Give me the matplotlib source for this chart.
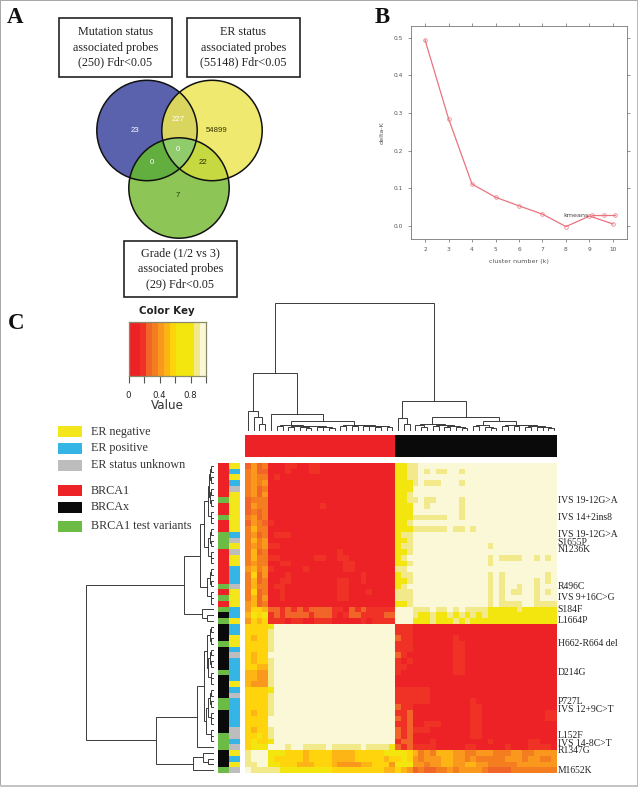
import numpy as np
import matplotlib
matplotlib.use("Agg")
import matplotlib.pyplot as plt
from matplotlib.colors import ListedColormap
from matplotlib.patches import Circle, Rectangle, Polygon

W, H = 638, 787
SERIF = "Liberation Serif"
SANS = "Liberation Sans"

# ---------- panel A data ----------
box_texts = ["Mutation status\nassociated probes\n(250) Fdr<0.05",
             "ER status\nassociated probes\n(55148) Fdr<0.05",
             "Grade (1/2 vs 3)\nassociated probes\n(29) Fdr<0.05"]
venn_counts = ["23", "227", "54899", "0", "0", "22", "7"]

# ---------- panel B data ----------
k_values = [2, 3, 4, 5, 6, 7, 8, 9, 10]
delta_k = [0.494, 0.285, 0.111, 0.076, 0.053, 0.031, -0.002, 0.026, 0.005]

# ---------- panel C data ----------
level_colors = ["#ED2227", "#EF3225", "#F26528", "#F47D20", "#F9981C",
                "#FDB515", "#FFD40C", "#F3E60F", "#F2EA8A", "#FBF8D8"]
key_levels = [0, 0, 1, 2, 3, 4, 5, 6, 7, 7, 7, 8, 9]
top_groups = "R" * 26 + "K" * 28
side_status = "RRRRRRGRRGRRGGGRRRRRRGRGRGKGKKKGKKKKGKKKKGGKKKKGGGKKKG"
side_er = "YBYBSYYYYYYYBSYSYYBBBSYYYBBYBBYYBSBBBBYBSBBBBBSSBSYBYS"
status_colors = {"R": "#ED2227", "K": "#0A0A0A", "G": "#6CBB45"}
er_colors = {"Y": "#F3E61A", "B": "#35B5E5", "S": "#BDBDBD"}

heat_left = [
 "2423" "0001100110000000000000",
 "3422" "0001000110000000000000",
 "3433" "0100000000000000000000",
 "3434" "0000000000000000000000",
 "3423" "0000000000000000000000",
 "3424" "0000000000000000000000",
 "2333" "0000000000000000000000",
 "2433" "0000000001000000000000",
 "2323" "0000000000000000000000",
 "3423" "0000000000000000000000",
 "2432" "1000000000000000000000",
 "3533" "0000000000000000000000",
 "3423" "0111000000000000000000",
 "3534" "0000000000000000000000",
 "3434" "1100000000000000000000",
 "3523" "0000000000001000000000",
 "3533" "1100000011001100000000",
 "3433" "0011000000000110000000",
 "4534" "1000001000000110000000",
 "3624" "0001000000000000100000",
 "3523" "0011000000001100100000",
 "3533" "0110000000001100000000",
 "3623" "0010000000001100010000",
 "3524" "0010000000001100000000",
 "4523" "0000000000000000000000",
 "4665" "2212121222211021211111",
 "5767" "1212222122210122111122",
 "4656" "1110110011100000101111",
 "6666" "7999999999999999999999",
 "6666" "8999999999999999999999",
 "6566" "8999999999999999999999",
 "6666" "8999999999999999999999",
 "6666" "8999999999999999999999",
 "6566" "9999999999999999999999",
 "6566" "8999999999999999999999",
 "6655" "8999999999999999999999",
 "5544" "8999999999999999999999",
 "5544" "8999999999999999999999",
 "5444" "8999999999999999999999",
 "6666" "7999999999999999999999",
 "6666" "8999999999999999999999",
 "6666" "8999999999999999999999",
 "6666" "8999999999999999999999",
 "6566" "8999999999999999999999",
 "6666" "9999999999999999999999",
 "6666" "9999999999999999999999",
 "6566" "8999999999999999999999",
 "6676" "8999999999999999999999",
 "6766" "7999999999999999999999",
 "6777" "9998998888988888988887",
 "8999" "7776665666655556666677",
 "8999" "7666665666655556666656",
 "8899" "7766655566654444556664",
 "9888" "8877777777766666666655",
]
heat_right = [
 "7788" "999999999999999999999999",
 "7788" "989889989999999999999999",
 "7788" "999999999999999999999999",
 "7778" "988899989999999999999999",
 "7779" "999999999999999999999999",
 "7789" "999999999999999999999999",
 "7788" "988999989999999999999999",
 "7779" "989999989999999999999999",
 "7779" "999999989999999999999999",
 "7778" "888889989999999999999999",
 "7789" "999999999999999999999999",
 "7778" "888889889899999999999999",
 "7889" "999999999999999999999999",
 "7789" "999999999999999999999999",
 "7889" "999999999999899999999999",
 "7789" "999999999999999999999999",
 "7899" "999999999999898888998989",
 "7789" "999999999999899999999999",
 "8899" "999999999999999999999999",
 "7889" "999999999999898999999989",
 "7789" "999999999999898999998989",
 "7899" "999999999999898998998999",
 "8889" "999999999999898988998989",
 "8889" "999999999999898999998999",
 "7789" "999999999999898888998888",
 "999888988989" "8888777778777777",
 "999877877878" "7878777777777777",
 "999777877787" "8777777777777777",
 "111" "0000000000000000000000000",
 "111" "0000000000000000000000000",
 "211" "0000000100000000000000000",
 "111" "0000000110000000000000000",
 "111" "0000000110000000000000000",
 "210" "0000000110000000000000000",
 "101" "0000000110000000000000000",
 "110" "0000000110000000000000000",
 "100" "0000000110000000000000000",
 "000" "0000000000000000000000000",
 "000" "0000000000000000000000000",
 "111" "1110000000000000000000000",
 "111" "1110000000000000000000000",
 "111" "1110000000100000000000000",
 "211" "0000000000110000000000000",
 "112" "0000000000110000000000011",
 "212" "0000000000110000000000011",
 "112" "0011100000110000000000000",
 "212" "1110000000110000000000000",
 "212" "0000000000110000000000000",
 "122" "0001000000000100000011000",
 "212" "1111000001100000100011110",
 "7765343555443344433344334444",
 "6764344455443433333444344334",
 "7774434455445544333334444444",
 "6542322334344443222233333333",
]
side_labels = ["IVS 19-12G>A", "IVS 14+2ins8", "IVS 19-12G>A", "S1655P", "N1236K",
               "R496C", "IVS 9+16C>G", "S184F", "L1664P", "H662-R664 del", "D214G",
               "P727L", "IVS 12+9C>T", "L152F", "IVS 14-8C>T", "R1347G", "M1652K"]
side_label_rows = [6, 9, 12, 13.3, 14.6, 21, 23, 25, 27, 31, 36, 41, 42.4, 47, 48.3, 49.6, 53]

# Dendrograms as nested [height, child, child]; 0 is a leaf.
p2 = [2, 0, 0]
q4 = [3, p2, p2]
t3 = [2.5, 0, p2]
col_a = [5, [4, 0, 0], [4.5, [3.5, 0, 0], [4, [3, 0, [2, 0, 0]], [3.5, [3, 0, 0], [2.5, 0, 0]]]]]
col_b = [5.5, [4, 0, 0], [5, [4, 0, 0], [4.5, [4, 0, 0], [4.2, [3, 0, 0], [3, 0, 0]]]]]
col_c = [6, [5, 0, [3, 0, 0]], [5.5, [4, 0, 0], [4, [3, 0, 0], [3.5, 0, [2, 0, 0]]]]]
col_d = [5, [4, 0, 0], [3, 0, [2, 0, 0]]]
col_e = [5.5, [4.5, 0, 0], [5, [4, 0, 0], [4, [3, 0, 0], [3.5, [3, 0, 0], [2, 0, 0]]]]]
col_tree = [127,
            [57, [19, 0, [13, 0, [6, 0, 0]]], [16, 0, [9.3, col_a, col_b]]],
            [29, [12, 0, [6, 0, 0]], [13, col_c, [9, col_d, col_e]]]]
row_t1 = [9, [5, [4, q4, q4], t3], [5, q4, t3]]
row_t2 = [6, q4, t3]
row_q = [16, [9, [6, q4, [5, q4, t3]], [7, [5, q4, t3], t3]], 0]
row_tree = [127,
            [29, [13, row_t1, row_t2], [11, 0, [6, 0, 0]]],
            [57, row_q, [20, [10, 0, [5, 0, 0]], 0]]]

legend_er = ["ER negative", "ER positive", "ER status unknown"]
legend_er_colors = ["#F3E61A", "#35B5E5", "#BDBDBD"]
legend_group = ["BRCA1", "BRCAx", "BRCA1 test variants"]
legend_group_colors = ["#ED2227", "#0A0A0A", "#6CBB45"]


def px_axes(fig, x0, y0, x1, y1, **kw):
    return fig.add_axes([x0 / W, 1 - y1 / H, (x1 - x0) / W, (y1 - y0) / H], **kw)


def draw_tree(node, counter, segs):
    if node == 0:
        pos = counter[0] + 0.5
        counter[0] += 1
        return pos, 0
    h, a, b = node
    pa, ha = draw_tree(a, counter, segs)
    pb, hb = draw_tree(b, counter, segs)
    segs.append(([pa, pa, pb, pb], [ha, h, h, hb]))
    return (pa + pb) / 2, h


fig = plt.figure(figsize=(W / 100, H / 100), dpi=100, facecolor="white")
ov = fig.add_axes([0, 0, 1, 1])
ov.set_xlim(0, W)
ov.set_ylim(H, 0)
ov.axis("off")

# page frame
ov.add_patch(Rectangle((0, 0), W, 1.2, fc="#A8A8A8", ec="none"))
ov.add_patch(Rectangle((0, 0), 1.2, H, fc="#A8A8A8", ec="none"))
ov.add_patch(Rectangle((0, 784.5), W, 2.5, fc="#C4C4C4", ec="none"))
ov.add_patch(Rectangle((636.5, 0), 1.5, H, fc="#B8B8B8", ec="none"))

# panel letters
for s, x, y in [("A", 7, 23), ("B", 375, 23), ("C", 7.5, 329)]:
    ov.text(x, y, s, family=SERIF, weight="bold", fontsize=16.5, ha="left", va="baseline", color="#111111")

# Venn
centers = [(147, 130.5), (212, 130.5), (179, 188)]
radius = 50.2
base = ["#5B62AD", "#EFE96F", "#8DC656"]
for c, col in zip(centers, base):
    ov.add_patch(Circle(c, radius, fc=col, ec="none", zorder=2))


def region(ids, color):
    pts = []
    t = np.linspace(0, 2 * np.pi, 720, endpoint=False)
    for i in ids:
        cx, cy = centers[i]
        xs, ys = cx + radius * np.cos(t), cy + radius * np.sin(t)
        keep = np.ones_like(xs, bool)
        for j in ids:
            if j != i:
                keep &= (xs - centers[j][0]) ** 2 + (ys - centers[j][1]) ** 2 <= radius ** 2 + 1e-6
        pts.append(np.c_[xs[keep], ys[keep]])
    pts = np.vstack(pts)
    m = pts.mean(axis=0)
    pts = pts[np.argsort(np.arctan2(pts[:, 1] - m[1], pts[:, 0] - m[0]))]
    ov.add_patch(Polygon(pts, closed=True, fc=color, ec="none", zorder=3))


region([0, 1], "#DAD55E")
region([0, 2], "#62AE3E")
region([1, 2], "#C6D940")
region([0, 1, 2], "#90CB6C")
for c in centers:
    ov.add_patch(Circle(c, radius, fc="none", ec="#111111", lw=1.1, zorder=4))
count_pos = [(135, 130), (178, 119.5), (217, 130), (178, 149.5), (152, 163), (203, 163), (178, 195.5)]
count_col = ["#FFFFFF", "#FFFFFF", "#333300", "#FFFFFF", "#FFFFFF", "#223300", "#1F4010"]
for s, (x, y), c in zip(venn_counts, count_pos, count_col):
    ov.text(x, y, s, ha="center", va="center", family=SANS, fontsize=5.6, color=c, zorder=5)

for (x0, y0, x1, y1), s in zip([(59, 18, 172, 77), (187, 18, 300, 77), (124, 241, 237, 297)], box_texts):
    ov.add_patch(Rectangle((x0, y0), x1 - x0, y1 - y0, fc="white", ec="#222222", lw=1.2, zorder=6))
    ov.text((x0 + x1) / 2, (y0 + y1) / 2, s, ha="center", va="center", family=SERIF,
            fontsize=8.7, linespacing=1.36, color="#222222", zorder=7)

# Panel B
axb = px_axes(fig, 411, 26, 627, 239)
line_col = "#E8747E"
axb.plot(k_values, delta_k, color=line_col, lw=0.9, marker="o", ms=2.6, mfc="none", mew=0.5, label="kmeans")
axb.set_xlim(2 - 14 / 23.46, 10 + 14 / 23.46)
axb.set_ylim(-0.035, 0.531)
axb.set_xticks(k_values)
axb.set_yticks([0, 0.1, 0.2, 0.3, 0.4, 0.5])
axb.set_yticklabels(["0.0", "0.1", "0.2", "0.3", "0.4", "0.5"])
axb.tick_params(top=True, right=True, direction="out", length=2, width=0.5, labelsize=4.2,
                color="#666666", labelcolor="#555555", pad=4)
for s in axb.spines.values():
    s.set_linewidth(0.6)
    s.set_color("#777777")
axb.set_xlabel("cluster number (k)", fontsize=4.6, color="#555555", labelpad=5, family="DejaVu Sans")
axb.set_ylabel("delta-K", fontsize=4.6, color="#555555", labelpad=6, family="DejaVu Sans")
leg = axb.legend(frameon=False, numpoints=3, markerfirst=False, handlelength=4.2, fontsize=4.6,
                 loc="center right", bbox_to_anchor=(0.954, 0.11), borderpad=0, borderaxespad=0,
                 handletextpad=0.3, labelcolor="#444444")

# Colour key
cmap = ListedColormap(level_colors)
axk = px_axes(fig, 128.5, 322, 206, 376)
axk.pcolormesh(np.linspace(0, 1, len(key_levels) + 1), [0, 1], np.array([key_levels]),
               cmap=cmap, vmin=-0.5, vmax=9.5)
axk.set_yticks([])
axk.set_xticks([0, 0.2, 0.4, 0.6, 0.8, 1.0])
axk.set_xticklabels(["0", "", "0.4", "", "0.8", ""], family="DejaVu Sans", fontsize=6.2, color="#222222")
axk.tick_params(axis="x", length=5, width=0.8, color="#555555", pad=5.5)
for s in axk.spines.values():
    s.set_linewidth(0.9)
    s.set_color("#8A8A6A")
ov.text(167, 310.5, "Color Key", ha="center", va="center", family="DejaVu Sans", weight="bold",
        fontsize=7.4, color="#222222")
ov.text(167, 405.5, "Value", ha="center", va="center", family="DejaVu Sans", fontsize=8.6, color="#333333")

# Legends
for labels, cols, ys in [(legend_er, legend_er_colors, [431.5, 448.5, 465.5]),
                         (legend_group, legend_group_colors, [490.5, 507.5, 526])]:
    for s, c, y in zip(labels, cols, ys):
        ov.add_patch(Rectangle((58, y - 5.5), 24, 11, fc=c, ec="none"))
        ov.text(91, y, s, ha="left", va="center", family=SERIF, fontsize=8.7, color="#333333")

# Heat map
matrix = np.array([[int(ch) for ch in (a + b)] for a, b in zip(heat_left, heat_right)])
axh = px_axes(fig, 245, 463, 557, 773)
axh.pcolormesh(np.arange(55), np.arange(55), matrix, cmap=cmap, vmin=-0.5, vmax=9.5, rasterized=True)
axh.set_ylim(54, 0)
axh.axis("off")

# Column annotation bar
axt = px_axes(fig, 245, 435, 557, 457)
top_idx = np.array([[0 if ch == "R" else 1 for ch in top_groups]])
axt.pcolormesh(np.arange(55), [0, 1], top_idx, cmap=ListedColormap([status_colors["R"], status_colors["K"]]),
               vmin=0, vmax=1)
axt.axis("off")

# Row annotation bars
status_keys = list(status_colors)
er_keys = list(er_colors)
axs1 = px_axes(fig, 218, 463, 228.5, 773)
axs1.pcolormesh([0, 1], np.arange(55), np.array([[status_keys.index(c)] for c in side_status]),
                cmap=ListedColormap(list(status_colors.values())), vmin=0, vmax=2)
axs1.set_ylim(54, 0)
axs1.axis("off")
axs2 = px_axes(fig, 229, 463, 239.5, 773)
axs2.pcolormesh([0, 1], np.arange(55), np.array([[er_keys.index(c)] for c in side_er]),
                cmap=ListedColormap(list(er_colors.values())), vmin=0, vmax=2)
axs2.set_ylim(54, 0)
axs2.axis("off")

# Dendrograms
axd = px_axes(fig, 245, 303, 557, 430)
segs = []
draw_tree(col_tree, [0], segs)
for xs, hs in segs:
    axd.plot(xs, hs, color="#3A3A3A", lw=0.7, solid_joinstyle="miter", clip_on=False)
axd.set_xlim(0, 54)
axd.set_ylim(0, 127)
axd.axis("off")

axr = px_axes(fig, 86, 463, 213, 773)
segs = []
draw_tree(row_tree, [0], segs)
for ys, hs in segs:
    axr.plot(hs, ys, color="#3A3A3A", lw=0.7, solid_joinstyle="miter", clip_on=False)
axr.set_xlim(127, 0)
axr.set_ylim(54, 0)
axr.axis("off")

# Row labels
for s, r in zip(side_labels, side_label_rows):
    axh.text(54.1, r + 0.5, s, ha="left", va="center", family=SERIF, fontsize=6.9, color="#222222", clip_on=False)

fig.savefig("out.png", dpi=100, facecolor="white")
